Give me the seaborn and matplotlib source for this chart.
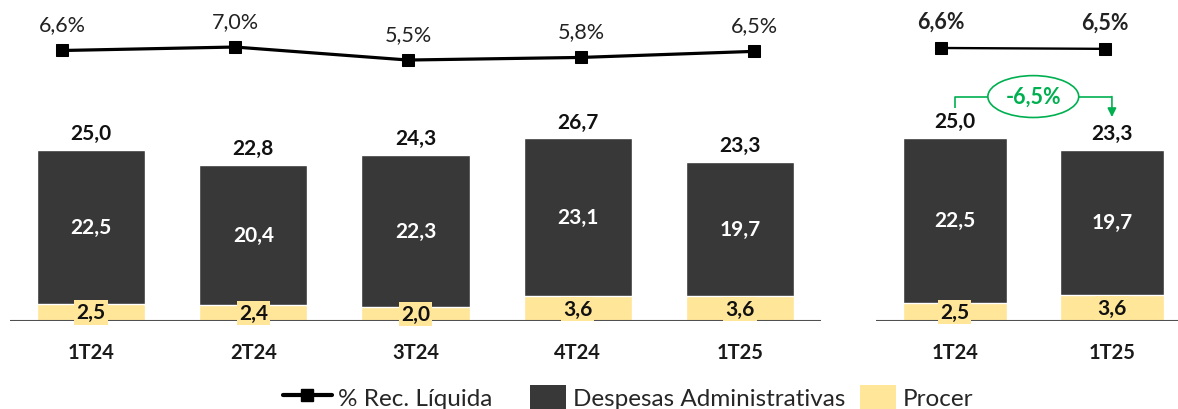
import matplotlib
matplotlib.use("Agg")
import matplotlib.pyplot as plt
import seaborn as sns
import numpy as np
from matplotlib.lines import Line2D
from matplotlib.patches import Patch

# ---------------- data ----------------
categories_left = ["1T24", "2T24", "3T24", "4T24", "1T25"]
despesas_left = [22.5, 20.4, 22.3, 23.1, 19.7]
procer_left = [2.5, 2.4, 2.0, 3.6, 3.6]
pct_left = [6.6, 7.0, 5.5, 5.8, 6.5]

categories_right = ["1T24", "1T25"]
despesas_right = [22.5, 19.7]
procer_right = [2.5, 3.6]
pct_right = [6.6, 6.5]

variation_label = "-6,5%"
legend_labels = ["% Rec. Líquida", "Despesas Administrativas", "Procer"]

DARK = "#383838"
YELLOW = "#FFE699"
GREEN = "#00B050"

sns.set_theme(style="white")
plt.rcParams["font.family"] = ["Lato", "DejaVu Sans"]

W, H = 1178, 410
fig = plt.figure(figsize=(W / 100, H / 100), dpi=100)


def fmt(v, pct=False):
    s = f"{v:.1f}".replace(".", ",")
    return s + "%" if pct else s


def panel(rect, cats, desp, proc, pct, bar_top, bar_w, right_lim, line_xlim, line_ylim, bold_pct, lw):
    ax = fig.add_axes(rect)
    totals = [d + p for d, p in zip(desp, proc)]
    sns.barplot(x=cats, y=totals, color=DARK, saturation=1, width=bar_w, ax=ax, zorder=2)
    sns.barplot(x=cats, y=proc, color=YELLOW, saturation=1, width=bar_w, ax=ax, zorder=3)
    n = len(cats)
    ax.set_xlim(-0.5, right_lim)
    ax.set_ylim(0, bar_top)
    ax.axhline(0, color="#505050", lw=1.5, zorder=4)
    for s in ax.spines.values():
        s.set_visible(False)
    ax.set_yticks([])
    ax.set_ylabel("")
    ax.tick_params(axis="x", length=0, pad=15)
    for lab in ax.get_xticklabels():
        lab.set_fontweight("bold")
        lab.set_fontsize(14.5)
        lab.set_color("#1a1a1a")
    ax.patch.set_alpha(0)
    for i in range(n):
        ax.annotate(fmt(totals[i]), (i, totals[i]), xytext=(0, 12), textcoords="offset points",
                    ha="center", va="center", fontsize=15, fontweight="bold", color="#111111", zorder=6)
        ax.text(i, proc[i] + desp[i] / 2, fmt(desp[i]), ha="center", va="center",
                fontsize=15, fontweight="bold", color="white", zorder=6)
        ax.text(i, proc[i] / 2, fmt(proc[i]), ha="center", va="center", fontsize=15,
                fontweight="bold", color="#111111", zorder=6,
                bbox=dict(boxstyle="square,pad=0.1", fc=YELLOW, ec="none"))

    lax = fig.add_axes(rect, zorder=5)
    lax.patch.set_alpha(0)
    xs = np.arange(len(pct))
    sns.lineplot(x=xs, y=pct, ax=lax, color="black", lw=lw,
                 marker="s", markersize=8, markeredgecolor="black", markerfacecolor="black")
    lax.set_xlim(*line_xlim)
    lax.set_ylim(*line_ylim)
    lax.axis("off")
    for i, v in enumerate(pct):
        lax.annotate(fmt(v, True), (i, v), xytext=(0, 19), textcoords="offset points",
                     ha="center", va="center", fontsize=15.5,
                     fontweight="bold" if bold_pct else "normal", color="#222222")
    return ax, totals


bottom = 88 / H
height = 1 - bottom

axL, totL = panel([10 / W, bottom, 811 / W, height], categories_left, despesas_left, procer_left,
                  pct_left, 47.1, 0.667, 4.5, (-0.30, 4.387), (-24.6, 12.54), False, 2.3)
axR, totR = panel([876 / W, bottom, 302 / W, height], categories_right, despesas_right, procer_right,
                  pct_right, 43.9, 0.66, 1.42, (-0.396, 1.445), (-24.89, 12.25), True, 1.7)

# variation bracket on right panel
y_start = totR[0] + 4.0
y_bar = totR[0] + 5.6
y_tip = totR[1] + 4.5
axR.plot([0, 0, 1], [y_start, y_bar, y_bar], color=GREEN, lw=1.2, zorder=7, solid_capstyle="butt")
axR.annotate("", xy=(1, y_tip), xytext=(1, y_bar),
             arrowprops=dict(arrowstyle="-|>", color=GREEN, lw=1.2, mutation_scale=13,
                             shrinkA=0, shrinkB=0), zorder=7)
axR.text(0.5, y_bar, variation_label, ha="center", va="center", fontsize=15.5, fontweight="bold",
         color=GREEN, zorder=8,
         bbox=dict(boxstyle="ellipse,pad=0.2", fc="white", ec=GREEN, lw=1.2))

# legend: three entries placed like the reference
ly = 1 - 398 / H
entries = [
    (Line2D([0], [0], color="black", lw=3, marker="s", markersize=8), legend_labels[0], 283, 2.0),
    (Patch(facecolor=DARK, edgecolor="none"), legend_labels[1], 530, 1.5),
    (Patch(facecolor=YELLOW, edgecolor="none"), legend_labels[2], 860, 1.5),
]
for h, lab, x0, hl in entries:
    fig.legend([h], [lab], loc="center left", bbox_to_anchor=(x0 / W, ly), frameon=False,
               fontsize=17.5, handlelength=hl, handleheight=1.15, handletextpad=0.25,
               borderpad=0, borderaxespad=0)

fig.savefig("out.png", dpi=100)
